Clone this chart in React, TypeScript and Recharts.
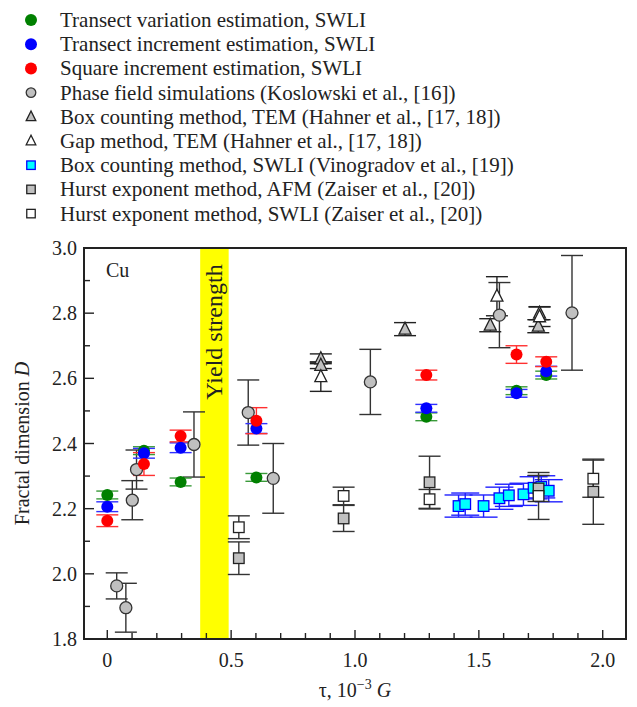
import { ScatterChart, Scatter, XAxis, YAxis, ErrorBar, ReferenceArea, Legend } from 'recharts'

const X_MIN = -0.094
const X_MAX = 2.094
const Y_MIN = 1.8
const Y_MAX = 3.0

const xTicks = [0, 0.1, 0.2, 0.3, 0.4, 0.5, 0.6, 0.7, 0.8, 0.9, 1.0, 1.1, 1.2, 1.3, 1.4, 1.5, 1.6, 1.7, 1.8, 1.9, 2.0]
const xTickLabels: Record<string, string> = { '0': '0', '0.5': '0.5', '1': '1.0', '1.5': '1.5', '2': '2.0' }
const yTicks = [1.8, 1.9, 2.0, 2.1, 2.2, 2.3, 2.4, 2.5, 2.6, 2.7, 2.8, 2.9, 3.0]
const yTickLabels: Record<string, string> = { '1.8': '1.8', '2': '2.0', '2.2': '2.2', '2.4': '2.4', '2.6': '2.6', '2.8': '2.8', '3': '3.0' }

const yieldBand = [0.375, 0.49]

// x = tau (10^-3 G), y = fractal dimension, e = error
const transectVariation = [
  { x: 0, y: 2.242, e: 0.012 },
  { x: 0.148, y: 2.378, e: 0.012 },
  { x: 0.296, y: 2.282, e: 0.012 },
  { x: 0.602, y: 2.296, e: 0.012 },
  { x: 1.288, y: 2.482, e: 0.012 },
  { x: 1.652, y: 2.562, e: 0.012 },
  { x: 1.772, y: 2.61, e: 0.012 },
]

const transectIncrement = [
  { x: 0, y: 2.206, e: 0.015 },
  { x: 0.148, y: 2.37, e: 0.015 },
  { x: 0.296, y: 2.387, e: 0.015 },
  { x: 0.602, y: 2.446, e: 0.015 },
  { x: 1.288, y: 2.508, e: 0.012 },
  { x: 1.652, y: 2.554, e: 0.012 },
  { x: 1.772, y: 2.622, e: 0.015 },
]

const squareIncrement = [
  { x: 0, y: 2.163, e: 0.018 },
  { x: 0.148, y: 2.337, e: 0.035 },
  { x: 0.296, y: 2.423, e: 0.018 },
  { x: 0.602, y: 2.47, e: 0.04 },
  { x: 1.288, y: 2.61, e: 0.015 },
  { x: 1.652, y: 2.673, e: 0.027 },
  { x: 1.772, y: 2.651, e: 0.015 },
]

const phaseField = [
  { x: 0.038, y: 1.963, e: 0.04 },
  { x: 0.075, y: 1.896, e: 0.075 },
  { x: 0.101, y: 2.226, e: 0.06 },
  { x: 0.118, y: 2.32, e: 0.06 },
  { x: 0.35, y: 2.397, e: 0.1 },
  { x: 0.569, y: 2.495, e: 0.1 },
  { x: 0.67, y: 2.293, e: 0.107 },
  { x: 1.062, y: 2.589, e: 0.1 },
  { x: 1.583, y: 2.794, e: 0.1 },
  { x: 1.876, y: 2.801, e: 0.176 },
]

const boxCountingTem = [
  { x: 0.862, y: 2.66, e: 0.015 },
  { x: 0.862, y: 2.64, e: 0.01 },
  { x: 1.202, y: 2.751, e: 0.02 },
  { x: 1.546, y: 2.763, e: 0.02 },
  { x: 1.745, y: 2.8, e: 0.02 },
  { x: 1.74, y: 2.76, e: 0.02 },
]

const gapMethodTem = [
  { x: 0.862, y: 2.605, e: 0.045 },
  { x: 1.573, y: 2.852, e: 0.06 },
  { x: 1.745, y: 2.789, e: 0.03 },
]

const boxCountingSwli = [
  { x: 1.418, y: 2.208, e: 0.034 },
  { x: 1.445, y: 2.214, e: 0.034 },
  { x: 1.519, y: 2.208, e: 0.034 },
  { x: 1.583, y: 2.232, e: 0.034 },
  { x: 1.621, y: 2.241, e: 0.034 },
  { x: 1.68, y: 2.244, e: 0.034 },
  { x: 1.721, y: 2.264, e: 0.034 },
  { x: 1.752, y: 2.267, e: 0.034 },
  { x: 1.782, y: 2.255, e: 0.034 },
]

const hurstAfm = [
  { x: 0.531, y: 2.048, e: 0.05 },
  { x: 0.954, y: 2.17, e: 0.04 },
  { x: 1.301, y: 2.281, e: 0.08 },
  { x: 1.741, y: 2.262, e: 0.04 },
  { x: 1.962, y: 2.252, e: 0.1 },
]

const hurstSwli = [
  { x: 0.531, y: 2.143, e: 0.035 },
  { x: 0.954, y: 2.239, e: 0.027 },
  { x: 1.301, y: 2.229, e: 0.03 },
  { x: 1.741, y: 2.239, e: 0.072 },
  { x: 1.962, y: 2.292, e: 0.057 },
]

const FONT = '"Liberation Serif", "Times New Roman", serif'
const INK = '#222'

type Kind = 'dot' | 'circle' | 'triangle' | 'square'

type SeriesDef = {
  name: string
  data: { x: number; y: number; e: number }[]
  kind: Kind
  fill: string
  stroke: string
  bar: string
  cap: number
}

// legend order
const legendSeries: SeriesDef[] = [
  { name: 'Transect variation estimation, SWLI', data: transectVariation, kind: 'dot', fill: '#008000', stroke: '#008000', bar: '#3a9a3a', cap: 11 },
  { name: 'Transect increment estimation, SWLI', data: transectIncrement, kind: 'dot', fill: '#0000ff', stroke: '#0000ff', bar: '#3030ff', cap: 11 },
  { name: 'Square increment estimation, SWLI', data: squareIncrement, kind: 'dot', fill: '#ff0000', stroke: '#ff0000', bar: '#ff3030', cap: 11 },
  { name: 'Phase field simulations (Koslowski et al., [16])', data: phaseField, kind: 'circle', fill: '#c0c0c0', stroke: '#333', bar: '#333', cap: 11 },
  { name: 'Box counting method, TEM (Hahner et al., [17, 18])', data: boxCountingTem, kind: 'triangle', fill: '#c0c0c0', stroke: '#222', bar: '#222', cap: 11 },
  { name: 'Gap method, TEM (Hahner et al., [17, 18])', data: gapMethodTem, kind: 'triangle', fill: '#ffffff', stroke: '#222', bar: '#222', cap: 11 },
  { name: 'Box counting method, SWLI (Vinogradov et al., [19])', data: boxCountingSwli, kind: 'square', fill: '#00ffff', stroke: '#0000ff', bar: '#2020ff', cap: 14 },
  { name: 'Hurst exponent method, AFM (Zaiser et al., [20])', data: hurstAfm, kind: 'square', fill: '#c0c0c0', stroke: '#222', bar: '#333', cap: 11 },
  { name: 'Hurst exponent method, SWLI (Zaiser et al., [20])', data: hurstSwli, kind: 'square', fill: '#ffffff', stroke: '#222', bar: '#333', cap: 11 },
]

// drawing order (later on top)
const drawOrder = [3, 4, 5, 6, 7, 8, 0, 1, 2]

function Marker({ kind, cx, cy, fill, stroke, s = 1 }: { kind: Kind; cx: number; cy: number; fill: string; stroke: string; s?: number }) {
  if (kind === 'dot') return <circle cx={cx} cy={cy} r={6 * s} fill={fill} />
  if (kind === 'circle') return <circle cx={cx} cy={cy} r={6 * s} fill={fill} stroke={stroke} strokeWidth={1.3} />
  if (kind === 'triangle') {
    const h = 6 * s
    const pts = `${cx},${cy - h - 1} ${cx - h},${cy + h - 1} ${cx + h},${cy + h - 1}`
    return <polygon points={pts} fill={fill} stroke={stroke} strokeWidth={1.3} />
  }
  const a = 5.3 * s
  return <rect x={cx - a} y={cy - a} width={2 * a} height={2 * a} fill={fill} stroke={stroke} strokeWidth={1.3} />
}

function XTick(props: any) {
  const { x, y, payload } = props
  const v = payload.value as number
  const label = xTickLabels[String(Math.round(v * 10) / 10)]
  return (
    <g>
      <line x1={x} y1={y} x2={x} y2={y - (label ? 9 : 6)} stroke={INK} strokeWidth={1.4} />
      {label && (
        <text x={x} y={y + 28} textAnchor="middle" fontFamily={FONT} fontSize={20} fill={INK}>
          {label}
        </text>
      )}
    </g>
  )
}

function YTick(props: any) {
  const { x, y, payload } = props
  const v = payload.value as number
  const label = yTickLabels[String(Math.round(v * 10) / 10)]
  return (
    <g>
      <line x1={x} y1={y} x2={x + (label ? 10 : 6)} y2={y} stroke={INK} strokeWidth={1.4} />
      {label && (
        <text x={x - 7} y={y + 7} textAnchor="end" fontFamily={FONT} fontSize={20} fill={INK}>
          {label}
        </text>
      )}
    </g>
  )
}

function YTitle(props: any) {
  const { viewBox } = props
  const cx = viewBox.x + 22
  const cy = viewBox.y + viewBox.height / 2
  return (
    <text x={cx} y={cy} transform={`rotate(-90 ${cx} ${cy})`} textAnchor="middle" dominantBaseline="central" fontFamily={FONT} fontSize={20} fill={INK}>
      Fractal dimension <tspan fontStyle="italic">D</tspan>
    </text>
  )
}

function XTitle(props: any) {
  const { viewBox } = props
  const cx = viewBox.x + viewBox.width / 2
  return (
    <text x={cx} y={viewBox.y + 58} textAnchor="middle" fontFamily={FONT} fontSize={20} fill={INK}>
      τ, 10<tspan fontSize={14} dy={-8}>−3</tspan>
      <tspan dy={8}> </tspan>
      <tspan fontStyle="italic">G</tspan>
    </text>
  )
}

function BandLabel(props: any) {
  const { viewBox } = props
  const cx = viewBox.x + viewBox.width / 2
  const cy = viewBox.y + 84
  return (
    <text x={cx} y={cy} transform={`rotate(-90 ${cx} ${cy})`} textAnchor="middle" dominantBaseline="central" fontFamily={FONT} fontSize={24} fill={INK}>
      Yield strength
    </text>
  )
}

function FrameLabel(props: any) {
  const { viewBox } = props
  return (
    <text x={viewBox.x + 22} y={viewBox.y + 29} fontFamily={FONT} fontSize={20} fill={INK}>
      Cu
    </text>
  )
}

function LegendBox() {
  return (
    <svg width={637} height={230} style={{ display: 'block' }}>
      {legendSeries.map((s, i) => {
        const cy = 20 + i * 24.2
        return (
          <g key={s.name}>
            <Marker kind={s.kind} cx={31} cy={cy} fill={s.fill} stroke={s.stroke} s={s.kind === 'dot' ? 1 : 0.8} />
            <text x={60} y={cy + 7} fontFamily={FONT} fontSize={21} fill={INK}>
              {s.name}
            </text>
          </g>
        )
      })}
    </svg>
  )
}

export default function App() {
  return (
    <div style={{ width: 637, height: 707, position: 'relative' }}>
      <style>{'body{margin:0}'}</style>
      <ScatterChart width={637} height={707} margin={{ top: 248, right: 11, bottom: 0, left: 0 }}>
        <XAxis
          type="number"
          dataKey="x"
          domain={[X_MIN, X_MAX]}
          allowDataOverflow
          ticks={xTicks}
          interval={0}
          tickSize={0}
          tickMargin={0}
          tick={<XTick />}
          height={68}
          axisLine={{ stroke: INK, strokeWidth: 2 }}
          label={<XTitle />}
        />
        <YAxis
          type="number"
          dataKey="y"
          domain={[Y_MIN, Y_MAX]}
          allowDataOverflow
          ticks={yTicks}
          interval={0}
          tickSize={0}
          tickMargin={0}
          tick={<YTick />}
          width={84}
          axisLine={{ stroke: INK, strokeWidth: 2 }}
          label={<YTitle />}
        />
        <ReferenceArea x1={yieldBand[0]} x2={yieldBand[1]} y1={Y_MIN} y2={Y_MAX} fill="#ffff00" fillOpacity={1} stroke="none" label={<BandLabel />} />
        {drawOrder.map((idx) => {
          const s = legendSeries[idx]
          return (
            <Scatter
              key={s.name}
              name={s.name}
              data={s.data}
              isAnimationActive={false}
              shape={(p: any) => <Marker kind={s.kind} cx={p.cx} cy={p.cy} fill={s.fill} stroke={s.stroke} />}
            >
              <ErrorBar dataKey="e" direction="y" width={s.cap} stroke={s.bar} strokeWidth={1.4} />
            </Scatter>
          )
        })}
        <ReferenceArea x1={X_MIN} x2={X_MAX} y1={Y_MIN} y2={Y_MAX} fill="none" stroke={INK} strokeWidth={2} label={<FrameLabel />} />
        <Legend layout="vertical" align="center" verticalAlign="middle" wrapperStyle={{ top: 0, left: 0, width: 637, height: 230 }} content={() => <LegendBox />} />
      </ScatterChart>
    </div>
  )
}
